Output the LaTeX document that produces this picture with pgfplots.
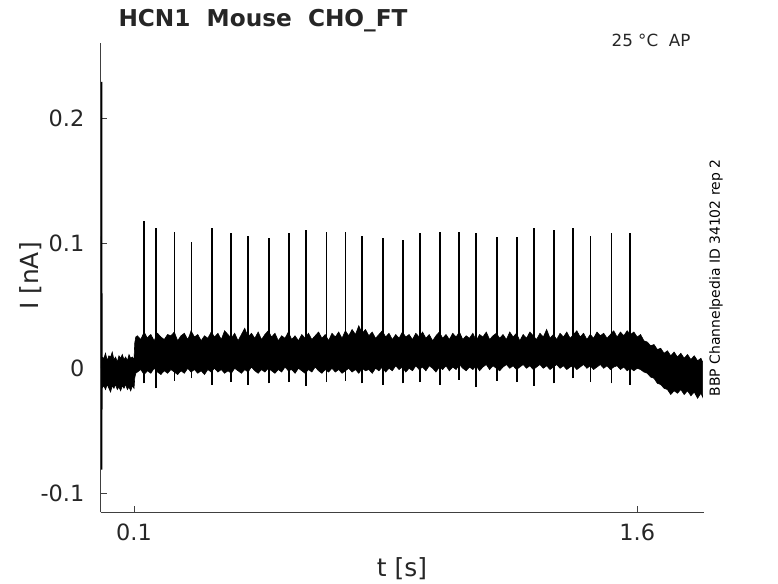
\documentclass[border=0pt]{standalone}
\usepackage{pgfplots}
\pgfplotsset{compat=1.18}
\usepackage{fontspec}
\setmainfont{DejaVu Sans}

\definecolor{txtgray}{HTML}{262626}
\definecolor{axgray}{HTML}{404040}

\begin{document}
\begin{tikzpicture}

\begin{axis}[
    at={(100.5bp,70.7bp)}, anchor=south west,
    width=603.8bp, height=469.3bp, scale only axis,
    xmin=0, xmax=1.8,
    ymin=-0.1152, ymax=0.2602,
    axis lines*=left,
    axis line style={color=axgray, line width=0.8bp},
    xtick={0.1,1.6}, xticklabels={0.1,1.6},
    ytick={-0.1,0,0.1,0.2}, yticklabels={-0.1,0,0.1,0.2},
    tick align=inside, major tick length=6bp,
    tick style={color=axgray, line width=0.8bp},
    ticklabel style={font=\fontsize{22.5}{27}\selectfont, text=txtgray},
    xticklabel style={anchor=north, inner sep=0pt, yshift=-11bp},
    yticklabel style={anchor=east, inner sep=0pt, xshift=-16bp},
]

% noise band: upper edge left to right, then lower edge right to left
\addplot[fill=black, draw=black, line width=0.6bp] coordinates {
(0.004,0.009) (0.010,0.008) (0.015,0.012) (0.020,0.006) (0.025,0.010) (0.030,0.009)
(0.035,0.013) (0.040,0.007) (0.045,0.009) (0.050,0.005) (0.055,0.010) (0.060,0.008)
(0.065,0.011) (0.070,0.007) (0.075,0.009) (0.080,0.006) (0.085,0.011) (0.090,0.008)
(0.095,0.009) (0.100,0.007) (0.102,0.020) (0.105,0.025)
(0.11,0.026) (0.12,0.023) (0.13,0.029) (0.14,0.024) (0.145,0.026) (0.15,0.027) (0.16,0.022)
(0.17,0.028) (0.18,0.025) (0.19,0.023) (0.20,0.027) (0.21,0.026) (0.22,0.029)
(0.23,0.022) (0.24,0.026) (0.25,0.028) (0.26,0.023) (0.265,0.026) (0.27,0.030) (0.28,0.025)
(0.29,0.027) (0.30,0.022) (0.31,0.026) (0.32,0.024) (0.33,0.029) (0.34,0.025)
(0.35,0.028) (0.36,0.023) (0.37,0.030) (0.38,0.027) (0.39,0.024) (0.40,0.028)
(0.41,0.022) (0.42,0.027) (0.43,0.032) (0.44,0.025) (0.45,0.028) (0.46,0.024)
(0.47,0.029) (0.48,0.023) (0.49,0.027) (0.50,0.030) (0.51,0.025) (0.52,0.028)
(0.53,0.022) (0.54,0.026) (0.55,0.024) (0.56,0.029) (0.57,0.023) (0.58,0.026)
(0.59,0.022) (0.60,0.027) (0.61,0.024) (0.62,0.028) (0.63,0.023) (0.64,0.026)
(0.65,0.029) (0.66,0.024) (0.67,0.027) (0.68,0.022) (0.69,0.028) (0.70,0.025)
(0.71,0.029) (0.72,0.024) (0.73,0.030) (0.74,0.026) (0.75,0.031) (0.76,0.027)
(0.77,0.034) (0.78,0.028) (0.79,0.031) (0.80,0.026) (0.81,0.029) (0.82,0.024)
(0.83,0.027) (0.84,0.030) (0.85,0.025) (0.86,0.028) (0.87,0.023) (0.88,0.027)
(0.89,0.024) (0.90,0.029) (0.91,0.025) (0.92,0.027) (0.93,0.023) (0.94,0.028)
(0.95,0.025) (0.96,0.029) (0.97,0.024) (0.98,0.027) (0.99,0.022) (1.00,0.026)
(1.01,0.029) (1.02,0.024) (1.03,0.027) (1.04,0.023) (1.05,0.028) (1.06,0.025)
(1.07,0.029) (1.08,0.023) (1.09,0.026) (1.10,0.024) (1.11,0.028) (1.12,0.022)
(1.13,0.027) (1.14,0.025) (1.15,0.029) (1.16,0.023) (1.17,0.026) (1.18,0.028)
(1.19,0.024) (1.20,0.027) (1.21,0.023) (1.22,0.029) (1.23,0.025) (1.24,0.028)
(1.25,0.022) (1.26,0.027) (1.27,0.024) (1.28,0.029) (1.29,0.026) (1.30,0.023)
(1.31,0.028) (1.32,0.025) (1.33,0.031) (1.34,0.024) (1.35,0.027) (1.36,0.023)
(1.37,0.028) (1.38,0.025) (1.39,0.029) (1.40,0.024) (1.41,0.027) (1.42,0.030)
(1.43,0.025) (1.44,0.028) (1.45,0.023) (1.46,0.027) (1.47,0.024) (1.48,0.029)
(1.49,0.026) (1.50,0.028) (1.51,0.024) (1.52,0.027) (1.53,0.030) (1.54,0.025)
(1.55,0.029) (1.56,0.026) (1.57,0.030) (1.58,0.027) (1.59,0.029) (1.60,0.025)
(1.61,0.027) (1.62,0.022) (1.63,0.021) (1.64,0.018) (1.65,0.019) (1.66,0.015)
(1.67,0.016) (1.68,0.012) (1.69,0.014) (1.70,0.010) (1.71,0.013) (1.72,0.009)
(1.73,0.012) (1.74,0.008) (1.75,0.011) (1.76,0.007) (1.77,0.010) (1.78,0.006)
(1.79,0.008) (1.795,0.005)
(1.795,-0.023) (1.79,-0.020) (1.78,-0.024) (1.77,-0.019) (1.76,-0.022) (1.75,-0.018)
(1.74,-0.021) (1.73,-0.017) (1.72,-0.020) (1.71,-0.018) (1.70,-0.021) (1.69,-0.017)
(1.68,-0.016) (1.67,-0.013) (1.66,-0.012) (1.65,-0.008) (1.64,-0.007) (1.63,-0.004)
(1.62,-0.003) (1.61,-0.001) (1.60,0.000) (1.59,-0.002) (1.58,0.000) (1.57,-0.002)
(1.56,0.001) (1.55,-0.001) (1.54,0.002) (1.53,0.001) (1.52,-0.001) (1.51,0.002)
(1.50,0.000) (1.49,0.003) (1.48,0.001) (1.47,-0.001) (1.46,0.002) (1.45,0.000)
(1.44,0.003) (1.43,0.001) (1.42,-0.001) (1.41,0.002) (1.40,0.001) (1.39,-0.001)
(1.38,0.002) (1.37,0.000) (1.36,0.003) (1.35,0.001) (1.34,-0.001) (1.33,0.002)
(1.32,0.000) (1.31,0.003) (1.30,0.001) (1.29,-0.001) (1.28,0.002) (1.27,0.000)
(1.26,0.003) (1.25,0.001) (1.24,-0.001) (1.23,0.002) (1.22,0.000) (1.21,0.003)
(1.20,0.001) (1.19,-0.002) (1.18,0.000) (1.17,0.002) (1.16,-0.001) (1.15,0.003)
(1.14,0.001) (1.13,-0.002) (1.12,0.002) (1.11,-0.001) (1.10,0.001) (1.09,-0.002)
(1.08,0.000) (1.07,0.003) (1.06,-0.001) (1.05,0.001) (1.04,-0.002) (1.03,0.002)
(1.02,-0.001) (1.01,0.001) (1.00,-0.003) (0.99,0.000) (0.98,0.002) (0.97,-0.002)
(0.96,0.001) (0.95,-0.001) (0.94,0.002) (0.93,-0.002) (0.92,0.000) (0.91,-0.003)
(0.90,0.001) (0.89,-0.001) (0.88,0.002) (0.87,-0.002) (0.86,0.000) (0.85,-0.003)
(0.84,0.001) (0.83,-0.002) (0.82,0.000) (0.81,-0.004) (0.80,-0.001) (0.79,-0.002)
(0.78,0.000) (0.77,-0.004) (0.76,-0.001) (0.75,-0.003) (0.74,0.000) (0.73,-0.002)
(0.72,-0.004) (0.71,-0.001) (0.70,-0.003) (0.69,0.000) (0.68,-0.003) (0.67,-0.001)
(0.66,-0.004) (0.65,-0.002) (0.64,0.001) (0.63,-0.003) (0.62,-0.001) (0.61,-0.004)
(0.60,-0.002) (0.59,0.000) (0.58,-0.004) (0.57,-0.001) (0.56,-0.002) (0.55,0.001)
(0.54,-0.003) (0.53,-0.001) (0.52,-0.004) (0.51,-0.002) (0.50,0.000) (0.49,-0.003)
(0.48,-0.001) (0.47,-0.004) (0.46,-0.002) (0.45,0.001) (0.44,-0.003) (0.43,-0.001)
(0.42,-0.004) (0.41,-0.002) (0.40,0.000) (0.39,-0.004) (0.38,-0.002) (0.37,-0.004)
(0.36,-0.001) (0.35,-0.003) (0.34,0.000) (0.33,-0.003) (0.32,-0.001) (0.31,-0.005)
(0.30,-0.002) (0.29,-0.004) (0.28,-0.001) (0.27,-0.003) (0.26,0.000) (0.25,-0.004)
(0.24,-0.002) (0.23,-0.005) (0.22,-0.003) (0.21,-0.001) (0.20,-0.004) (0.19,-0.002)
(0.18,-0.005) (0.17,-0.003) (0.16,0.000) (0.15,-0.004) (0.14,-0.002) (0.13,-0.005)
(0.12,-0.001) (0.11,-0.003) (0.105,-0.004) (0.102,-0.008) (0.100,-0.016) (0.095,-0.014)
(0.090,-0.018) (0.085,-0.015) (0.080,-0.017) (0.075,-0.013) (0.070,-0.016) (0.065,-0.014)
(0.060,-0.018) (0.055,-0.015) (0.050,-0.017) (0.045,-0.013) (0.040,-0.016) (0.035,-0.014)
(0.030,-0.019) (0.025,-0.016) (0.020,-0.013) (0.015,-0.017) (0.010,-0.014) (0.004,-0.016)
} -- cycle;

% capacitive transient at the start
\addplot[black, line width=1.2bp] coordinates {
(0.0030,0.000) (0.0036,0.229) (0.0040,-0.081) (0.0045,0.060) (0.0050,-0.010)
};

% action potential spikes
\addplot[black, line width=1.5bp] coordinates {(0.129,-0.012) (0.129,0.118)};
\addplot[black, line width=1.5bp] coordinates {(0.165,-0.016) (0.165,0.112)};
\addplot[black, line width=1.5bp] coordinates {(0.221,-0.010) (0.221,0.109)};
\addplot[black, line width=1.5bp] coordinates {(0.272,-0.008) (0.272,0.101)};
\addplot[black, line width=1.5bp] coordinates {(0.332,-0.013) (0.332,0.112)};
\addplot[black, line width=1.5bp] coordinates {(0.389,-0.011) (0.389,0.108)};
\addplot[black, line width=1.5bp] coordinates {(0.439,-0.013) (0.439,0.106)};
\addplot[black, line width=1.5bp] coordinates {(0.502,-0.012) (0.502,0.104)};
\addplot[black, line width=1.5bp] coordinates {(0.562,-0.011) (0.562,0.108)};
\addplot[black, line width=1.5bp] coordinates {(0.613,-0.014) (0.613,0.111)};
\addplot[black, line width=1.5bp] coordinates {(0.673,-0.011) (0.673,0.109)};
\addplot[black, line width=1.5bp] coordinates {(0.730,-0.010) (0.730,0.109)};
\addplot[black, line width=1.5bp] coordinates {(0.780,-0.012) (0.780,0.106)};
\addplot[black, line width=1.5bp] coordinates {(0.842,-0.013) (0.842,0.104)};
\addplot[black, line width=1.5bp] coordinates {(0.902,-0.012) (0.902,0.103)};
\addplot[black, line width=1.5bp] coordinates {(0.953,-0.011) (0.953,0.108)};
\addplot[black, line width=1.5bp] coordinates {(1.012,-0.013) (1.012,0.109)};
\addplot[black, line width=1.5bp] coordinates {(1.069,-0.009) (1.069,0.109)};
\addplot[black, line width=1.5bp] coordinates {(1.119,-0.015) (1.119,0.108)};
\addplot[black, line width=1.5bp] coordinates {(1.182,-0.010) (1.182,0.105)};
\addplot[black, line width=1.5bp] coordinates {(1.242,-0.011) (1.242,0.105)};
\addplot[black, line width=1.5bp] coordinates {(1.293,-0.014) (1.293,0.112)};
\addplot[black, line width=1.5bp] coordinates {(1.352,-0.012) (1.352,0.111)};
\addplot[black, line width=1.5bp] coordinates {(1.409,-0.008) (1.409,0.112)};
\addplot[black, line width=1.5bp] coordinates {(1.460,-0.011) (1.460,0.106)};
\addplot[black, line width=1.5bp] coordinates {(1.523,-0.012) (1.523,0.108)};
\addplot[black, line width=1.5bp] coordinates {(1.579,-0.013) (1.579,0.108)};

\end{axis}

% titles and labels
\node[anchor=base west, text=txtgray, font=\bfseries\fontsize{23.3}{27}\selectfont]
    at (115bp,556.3bp) {HCN1\ \ Mouse\ \ CHO\_FT};
\node[anchor=base east, text=txtgray, font=\fontsize{16.8}{20}\selectfont]
    at (694bp,536bp) {25 °C\ \ AP};
\node[anchor=base, text=txtgray, font=\fontsize{25}{30}\selectfont]
    at (402bp,6bp) {t [s]};
\node[rotate=90, text=txtgray, font=\fontsize{25}{30}\selectfont]
    at (31bp,307bp) {I [nA]};
\node[rotate=90, text=black, font=\fontsize{14}{17}\selectfont]
    at (716bp,305bp) {BBP Channelpedia ID 34102 rep 2};

% page frame (invisible)
\path (0,0) rectangle (778bp,583bp);
\end{tikzpicture}
\end{document}
